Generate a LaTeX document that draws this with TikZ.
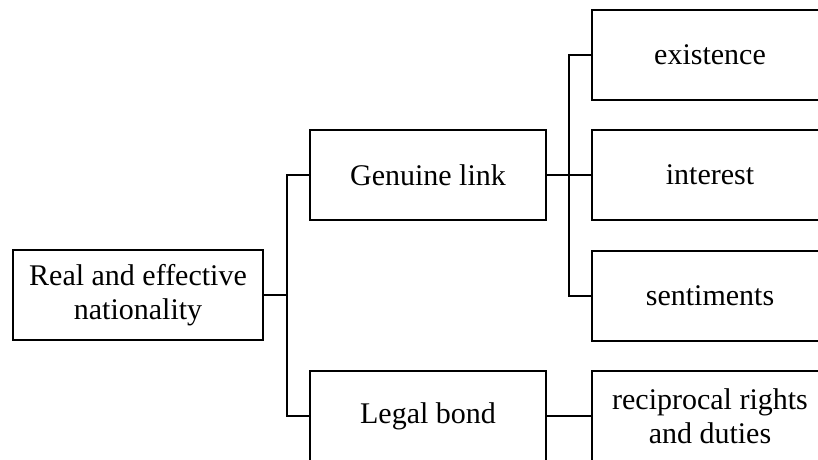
\documentclass[tikz,border=0pt]{standalone}
\usepackage{fontspec}
\setmainfont{Liberation Serif}
\begin{document}
\begin{tikzpicture}[x=1pt,y=-1pt,
  box/.style={draw,line width=1.5pt,minimum height=90pt,inner sep=0pt,align=center,font=\fontsize{30}{34}\selectfont},
  wire/.style={line width=1.5pt}]
\useasboundingbox (0,0) rectangle (818,459);
\clip (0,0) rectangle (818,459);
\node[box,minimum width=250pt] (root) at (138,295) {Real and effective\\nationality};
\node[box,minimum width=236pt] (genuine) at (428,175) {Genuine link};
\node[box,minimum width=236pt] (legal) at (428,416) {Legal bond};
\node[box,minimum width=236pt] (existence) at (710,55) {existence};
\node[box,minimum width=236pt] (interest) at (710,175) {interest};
\node[box,minimum width=236pt] (sentiments) at (710,296) {sentiments};
\node[box,minimum width=236pt] (recip) at (710,416) {reciprocal rights\\and duties};
\coordinate (j1) at (287,295);
\coordinate (j2) at (569,175);
\draw[wire] (root.east) -- (j1);
\draw[wire] (genuine.west) -| (j1) |- (legal.west);
\draw[wire] (existence.west) -| (j2) |- (sentiments.west);
\draw[wire] (genuine.east) -- (interest.west);
\draw[wire] (legal.east) -- (recip.west);
\end{tikzpicture}
\end{document}
